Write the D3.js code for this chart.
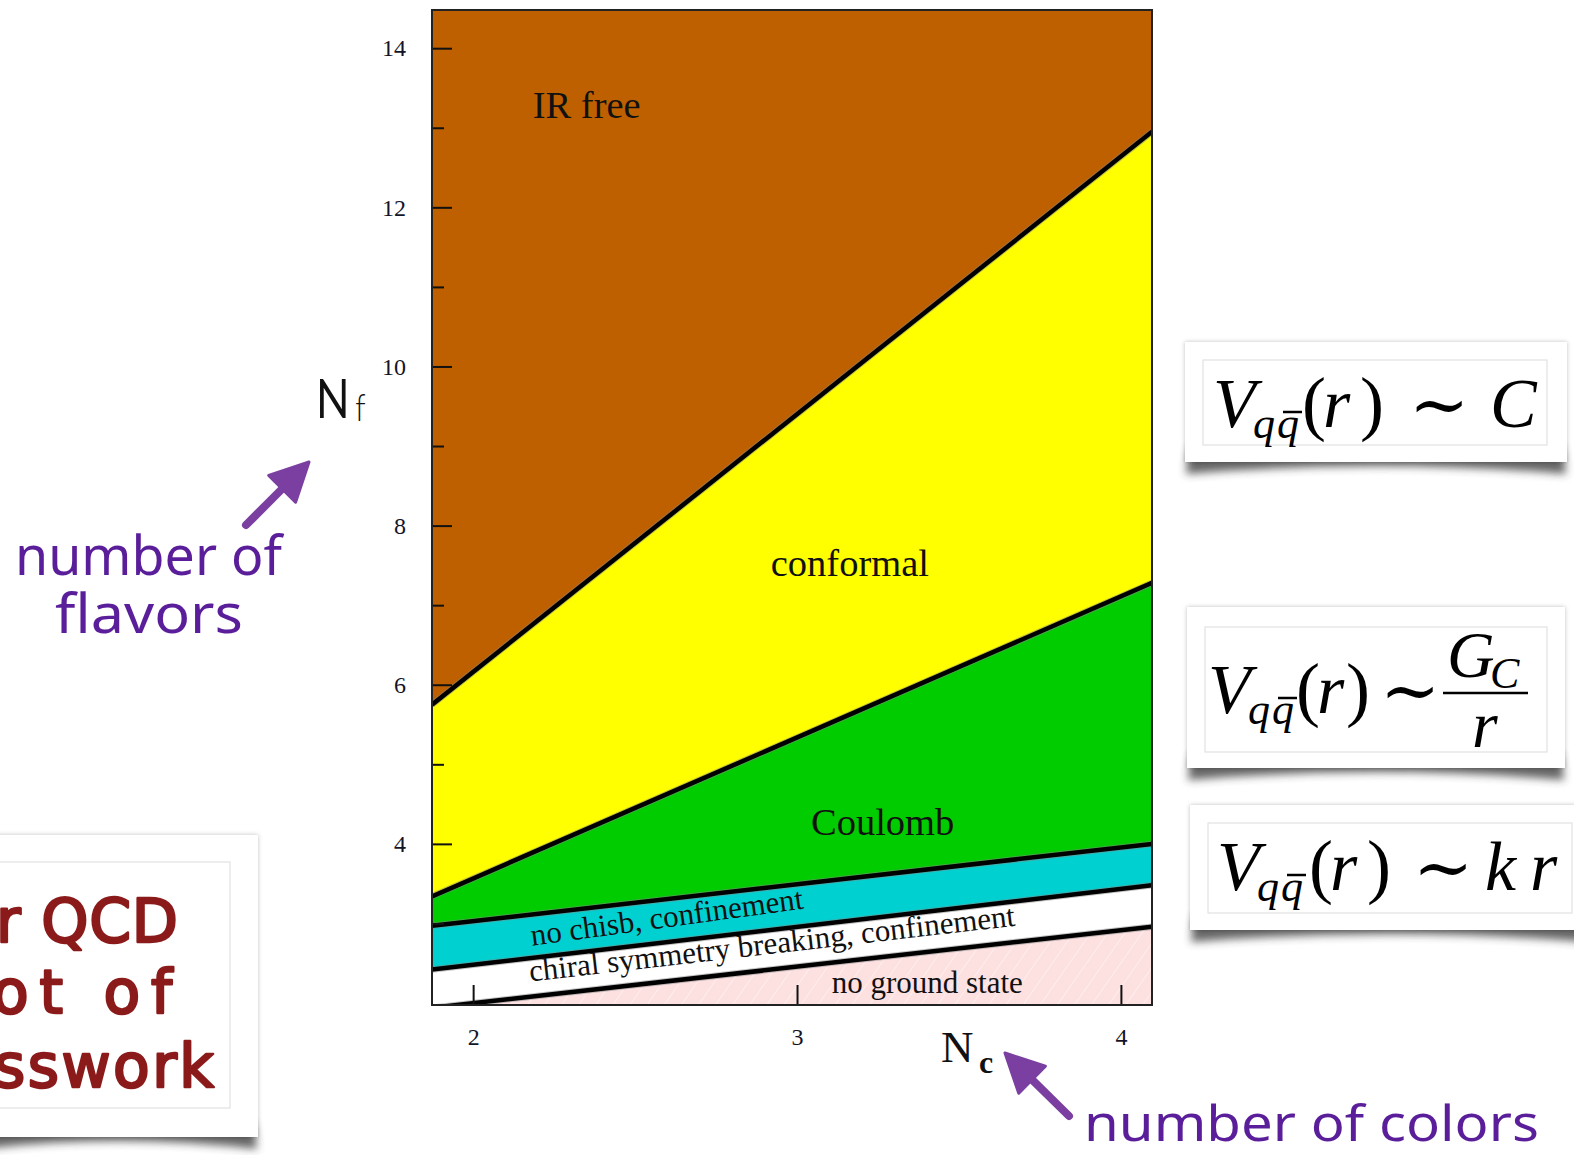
<!DOCTYPE html>
<html>
<head>
<meta charset="utf-8">
<script src="https://cdn.jsdelivr.net/npm/d3@7"></script>
<style>
html, body { margin: 0; padding: 0; background: #fff; }
svg { display: block; }
</style>
</head>
<body>
<svg id="chart" width="1574" height="1155"></svg>
<script>
// axis ranges
var ncDomain = [1.873, 4.096];
var nfDomain = [1.975, 14.48];

// Nf of every phase boundary at the left and right edge of the plot
var edgeNc = [1.873, 4.096];
var conformalTop = [5.75, 12.95];
var coulombTop = [3.34, 7.28];
var noChisbTop = [2.97, 4.00];
var chiralTop = [2.42, 3.48];
var noGroundTop = [1.94, 2.96];

// phases, top to bottom
var phaseNames = ["IR free", "conformal", "Coulomb", "no chisb, confinement",
                  "chiral symmetry breaking, confinement", "no ground state"];
var phaseColors = ["#bf6000", "#ffff00", "#00cc00", "#00d0d0", "#ffffff", "#fde0e0"];
// where each phase name sits (Nc, Nf of the start of its baseline)
var labelNc = [2.184, 2.919, 3.043, 2.182, 2.176, 3.107];
var labelNf = [13.12, 7.37, 4.11, 2.72, 2.27, 2.126];

// ticks
var majorNf = [4, 6, 8, 10, 12, 14];
var minorNf = [3, 5, 7, 9, 11, 13];
var ncTicks = [2, 3, 4];

var svg = d3.select("#chart");

var x = d3.scaleLinear().domain(ncDomain).range([432, 1152]);
var y = d3.scaleLinear().domain(nfDomain).range([1005, 10]);

var defs = svg.append("defs");
defs.append("clipPath").attr("id", "plotClip")
  .append("rect")
    .attr("x", x.range()[0]).attr("y", y.range()[1])
    .attr("width", x.range()[1] - x.range()[0])
    .attr("height", y.range()[0] - y.range()[1]);

var hatch = defs.append("pattern")
    .attr("id", "hatch")
    .attr("patternUnits", "userSpaceOnUse")
    .attr("width", 14).attr("height", 14)
    .attr("patternTransform", "rotate(35)");
hatch.append("rect").attr("width", 14).attr("height", 14).attr("fill", phaseColors[5]);
hatch.append("line").attr("x1", 0).attr("y1", 0).attr("x2", 0).attr("y2", 14)
    .attr("stroke", "#fff").attr("stroke-width", 1.5).attr("opacity", 0.6);

defs.append("filter").attr("id", "blur")
    .attr("x", "-20%").attr("y", "-50%").attr("width", "140%").attr("height", "200%")
  .append("feGaussianBlur").attr("stdDeviation", 4);
defs.append("filter").attr("id", "edge")
    .attr("x", "-10%").attr("y", "-10%").attr("width", "120%").attr("height", "120%")
  .append("feDropShadow").attr("dx", 0).attr("dy", 0).attr("stdDeviation", 2)
    .attr("flood-color", "#000").attr("flood-opacity", 0.25);

//////////// PHASE REGIONS ////////////

var bounds = [[nfDomain[1], nfDomain[1]], conformalTop, coulombTop, noChisbTop,
              chiralTop, noGroundTop, [nfDomain[0], nfDomain[0]]];

var regions = phaseNames.map(function(name, i) {
  return edgeNc.map(function(nc, j) {
    return {nc: nc, hi: bounds[i][j], lo: bounds[i + 1][j]};
  });
});

var area = d3.area()
    .x(function(d) { return x(d.nc); })
    .y0(function(d) { return y(d.lo); })
    .y1(function(d) { return y(d.hi); });

var plot = svg.append("g").attr("clip-path", "url(#plotClip)");

plot.selectAll("path.region")
  .data(regions)
  .enter().append("path")
    .attr("class", "region")
    .attr("d", area)
    .attr("fill", function(d, i) { return i == 5 ? "url(#hatch)" : phaseColors[i]; });

var line = d3.line()
    .x(function(d, j) { return x(edgeNc[j]); })
    .y(function(d) { return y(d); });

// soft grey halo then the black boundary
plot.selectAll("path.halo")
  .data(bounds.slice(1, 6))
  .enter().append("path")
    .attr("class", "halo")
    .attr("d", line)
    .attr("fill", "none")
    .attr("stroke", "#888")
    .attr("stroke-opacity", 0.5)
    .attr("stroke-width", 6.5);

plot.selectAll("path.boundary")
  .data(bounds.slice(1, 6))
  .enter().append("path")
    .attr("class", "boundary")
    .attr("d", line)
    .attr("fill", "none")
    .attr("stroke", "#000")
    .attr("stroke-width", 4.5);

//////////// AXES ////////////

function styleAxis(g) {
  g.select(".domain").remove();
  g.selectAll(".tick line").attr("stroke", "#111").attr("stroke-width", 2);
  g.selectAll(".tick text")
    .attr("fill", "#141428")
    .attr("font-family", "'Liberation Serif', 'Times New Roman', serif")
    .attr("font-size", 24);
}

svg.append("g")
    .attr("transform", "translate(" + x.range()[0] + ",0)")
    .call(d3.axisLeft(y).tickValues(majorNf).tickSize(-20).tickPadding(26).tickFormat(d3.format("d")))
    .call(styleAxis);

svg.append("g")
    .attr("transform", "translate(" + x.range()[0] + ",0)")
    .call(d3.axisLeft(y).tickValues(minorNf).tickSize(-12).tickFormat(""))
    .call(styleAxis);

svg.append("g")
    .attr("transform", "translate(0," + y.range()[0] + ")")
    .call(d3.axisBottom(x).tickValues(ncTicks).tickSize(-20).tickPadding(23).tickFormat(d3.format("d")))
    .call(styleAxis);

// frame
svg.append("rect")
    .attr("x", x.range()[0]).attr("y", y.range()[1])
    .attr("width", x.range()[1] - x.range()[0])
    .attr("height", y.range()[0] - y.range()[1])
    .attr("fill", "none")
    .attr("stroke", "#222")
    .attr("stroke-width", 2);

//////////// PHASE LABELS ////////////

function bandAngle(i) {
  // mean screen angle of the two boundaries around band i
  var dx = x(edgeNc[1]) - x(edgeNc[0]);
  var a1 = Math.atan2(y(bounds[i][1]) - y(bounds[i][0]), dx);
  var a2 = Math.atan2(y(bounds[i + 1][1]) - y(bounds[i + 1][0]), dx);
  return (a1 + a2) / 2 * 180 / Math.PI;
}

svg.append("g").selectAll("text")
  .data(phaseNames)
  .enter().append("text")
    .attr("transform", function(d, i) {
      var t = "translate(" + x(labelNc[i]) + "," + y(labelNf[i]) + ")";
      if (i == 3) t += " rotate(" + (bandAngle(i) - 1.2) + ")";
      if (i == 4) t += " rotate(" + bandAngle(i) + ")";
      return t;
    })
    .attr("font-family", "'Liberation Serif', 'Times New Roman', serif")
    .attr("font-size", function(d, i) { return i < 3 ? 38.5 : 31; })
    .attr("fill", "#111")
    .text(function(d) { return d; });

// axis titles
var ncTitle = svg.append("text")
    .attr("x", 941).attr("y", 1062)
    .attr("font-family", "'Liberation Serif', 'Times New Roman', serif")
    .attr("font-size", 45)
    .attr("fill", "#111");
ncTitle.append("tspan").text("N");
ncTitle.append("tspan").attr("x", 979).attr("y", 1073)
    .attr("font-size", 32).attr("font-weight", "bold").text("c");

var nfTitle = svg.append("g").attr("transform", "translate(316,418) scale(0.8,1)");
nfTitle.append("text")
    .attr("font-family", "Lato, 'Liberation Sans', sans-serif")
    .attr("font-size", 55)
    .attr("fill", "#111")
    .text("N");
nfTitle.append("text")
    .attr("x", 49).attr("y", 3)
    .attr("font-family", "Lato, 'Liberation Sans', sans-serif")
    .attr("font-weight", 300)
    .attr("font-size", 38)
    .attr("fill", "#111")
    .text("f");

//////////// ANNOTATIONS ////////////

var purple = "#5b1e9a";

function arrow(x0, y0, x1, y1) {
  var dx = x1 - x0, dy = y1 - y0, len = Math.sqrt(dx * dx + dy * dy);
  var ux = dx / len, uy = dy / len, head = 38, half = 19;
  var bx = x1 - ux * head, by = y1 - uy * head;
  svg.append("line")
      .attr("x1", x0).attr("y1", y0).attr("x2", bx + ux * 4).attr("y2", by + uy * 4)
      .attr("stroke", "#7a3fa0").attr("stroke-width", 8).attr("stroke-linecap", "round");
  svg.append("path")
      .attr("d", "M" + x1 + "," + y1 +
                 "L" + (bx - uy * half) + "," + (by + ux * half) +
                 "L" + (bx + uy * half) + "," + (by - ux * half) + "Z")
      .attr("fill", "#7a3fa0")
      .attr("stroke", "#7a3fa0").attr("stroke-width", 3).attr("stroke-linejoin", "round");
}

function note(s, x0, base, w, size) {
  svg.append("text")
      .attr("x", x0).attr("y", base)
      .attr("font-family", "'Noto Sans', 'Open Sans', sans-serif")
      .attr("font-size", size)
      .attr("fill", purple)
      .attr("textLength", w).attr("lengthAdjust", "spacingAndGlyphs")
      .text(s);
}

arrow(246, 525, 309, 462);
note("number of", 15, 575, 267, 54);
note("flavors", 55, 633, 188, 54);

arrow(1069, 1116, 1005, 1053);
note("number of colors", 1084, 1141, 455, 50);

// note card with page-curl shadow
function card(x0, y0, x1, y1, ix0, iy0, ix1, iy1) {
  var g = svg.append("g");
  var mid = (x0 + x1) / 2;
  g.append("path")
      .attr("d", "M" + (x0 + 4) + "," + (y1 - 14) + "L" + (x1 - 4) + "," + (y1 - 14) +
                 "L" + (x1 - 1) + "," + (y1 + 12) +
                 "Q" + mid + "," + (y1 - 4) + " " + (x0 + 1) + "," + (y1 + 12) + "Z")
      .attr("fill", "#333")
      .attr("opacity", 0.75)
      .attr("filter", "url(#blur)");
  g.append("rect")
      .attr("x", x0).attr("y", y0).attr("width", x1 - x0).attr("height", y1 - y0)
      .attr("fill", "#fff")
      .attr("filter", "url(#edge)");
  g.append("rect")
      .attr("x", ix0).attr("y", iy0).attr("width", ix1 - ix0).attr("height", iy1 - iy0)
      .attr("fill", "#fff")
      .attr("stroke", "#e2e2e2").attr("stroke-width", 1.2);
  return g;
}

function glyph(g, s, gx, gy, size, italic, family) {
  g.append("text")
      .attr("x", gx).attr("y", gy)
      .attr("font-family", family || "'Liberation Serif', 'Times New Roman', serif")
      .attr("font-style", italic ? "italic" : "normal")
      .attr("font-size", size)
      .attr("fill", "#000")
      .text(s);
}

// V_{q qbar}(r) ~ ... ; o = offsets of "(", "r", ")", "~" from the left of V
function potential(g, vx, base, o) {
  glyph(g, "V", vx, base, 70, true);
  glyph(g, "q", vx + 40, base + 11, 44, true);
  glyph(g, "q", vx + 64, base + 11, 44, true);
  g.append("line")
      .attr("x1", vx + 70).attr("x2", vx + 89)
      .attr("y1", base - 15).attr("y2", base - 15)
      .attr("stroke", "#000").attr("stroke-width", 2.5);
  glyph(g, "(", vx + o[0], base, 72, false);
  glyph(g, "r", vx + o[1], base, 70, true);
  glyph(g, ")", vx + o[2], base, 72, false);
  glyph(g, "\u223C", vx + o[3], base + 2, 72, false, "'DejaVu Serif', serif");
}

var c1 = card(1185, 342, 1567, 462, 1203, 360, 1547, 445);
potential(c1, 1213, 427, [89, 110, 147, 196]);
glyph(c1, "C", 1213 + 277, 427, 70, true);

var c2 = card(1187, 607, 1565, 768, 1205, 627, 1547, 752);
potential(c2, 1208, 713, [88, 109, 138, 172]);
glyph(c2, "G", 1447, 677, 66, true);
glyph(c2, "C", 1490, 688, 44, true);
c2.append("line")
    .attr("x1", 1443).attr("x2", 1528).attr("y1", 693).attr("y2", 693)
    .attr("stroke", "#000").attr("stroke-width", 2.5);
glyph(c2, "r", 1472, 747, 66, true);

var c3 = card(1190, 805, 1590, 930, 1208, 823, 1572, 913);
potential(c3, 1217, 890, [92, 113, 150, 196]);
glyph(c3, "k", 1217 + 268, 890, 70, true);
glyph(c3, "r", 1217 + 313, 890, 70, true);

var c4 = card(-20, 835, 258, 1137, -10, 862, 230, 1108);
var qcdLines = [["r QCD", -4, 942, 182], ["ot of", -8, 1013, 180], ["sswork", -6, 1087, 220]];
c4.selectAll("text.qcd")
  .data(qcdLines)
  .enter().append("text")
    .attr("class", "qcd")
    .attr("x", function(d) { return d[1]; })
    .attr("y", function(d) { return d[2]; })
    .attr("textLength", function(d) { return d[3]; })
    .attr("lengthAdjust", "spacing")
    .attr("font-family", "'DejaVu Sans', sans-serif")
    .attr("font-size", 60)
    .attr("stroke", "#8b1a1a")
    .attr("stroke-width", 2.5)
    .attr("stroke-linejoin", "round")
    .attr("fill", "#8b1a1a")
    .text(function(d) { return d[0]; });
</script>
</body>
</html>
